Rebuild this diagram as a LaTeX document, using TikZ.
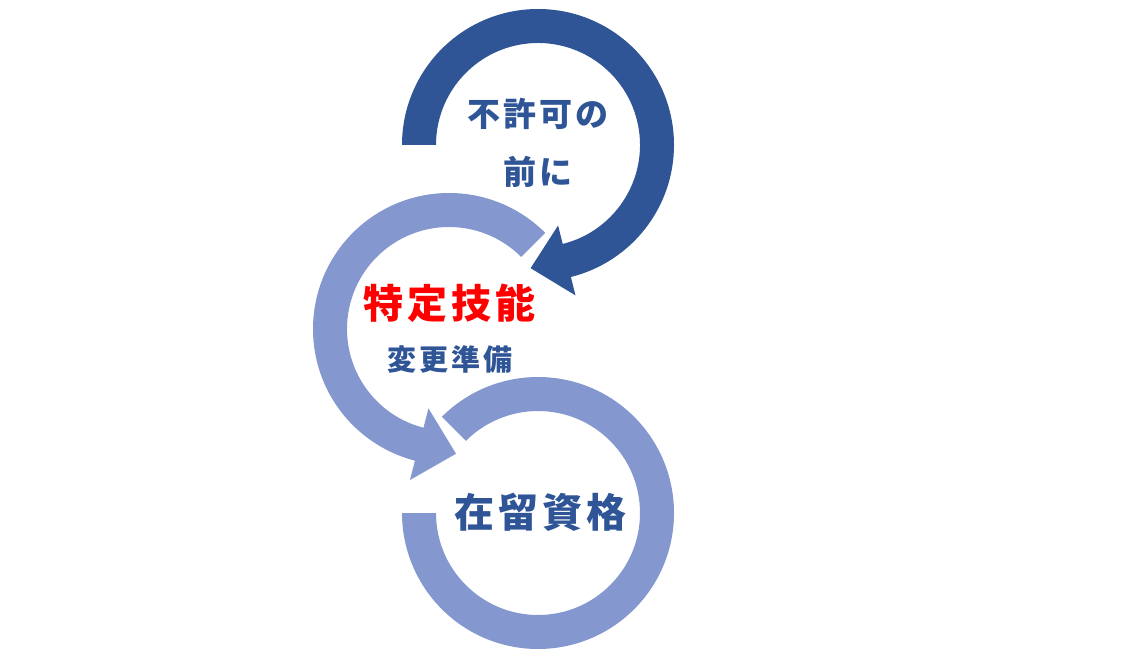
\documentclass[tikz,border=0pt]{standalone}
\usepackage{fontspec}
\newfontfamily\jp{Noto Sans CJK JP}[LetterSpace=10]
\usetikzlibrary{calc}
\definecolor{darkblue}{HTML}{2F5597}
\definecolor{lightblue}{HTML}{8497CF}
\definecolor{txtblue}{HTML}{2F5597}
\begin{document}
\begin{tikzpicture}[x=1pt,y=1pt,
  ringdark/.style={fill=darkblue},
  ringlight/.style={fill=lightblue},
  lbl/.style={text=txtblue,font=\jp\bfseries\fontsize{33}{40}\selectfont,inner sep=0pt},
  lblred/.style={text=red,font=\jp\bfseries\fontsize{40}{46}\selectfont,inner sep=0pt},
  lblsmall/.style={text=txtblue,font=\jp\bfseries\fontsize{29}{34}\selectfont,inner sep=0pt},
  lblbig/.style={text=txtblue,font=\jp\bfseries\fontsize{40}{46}\selectfont,inner sep=0pt}]
\useasboundingbox (0,0) rectangle (1123,-652);
\coordinate (C1) at (538,-145);
\coordinate (C2) at (449,-329);
\coordinate (C3) at (538,-513);
% ring 1 (dark, clockwise with head)
\fill[ringdark] ($(C1)+(180:136)$) arc[start angle=180,end angle=-76,radius=136]
  -- ($(C1)+(-76:155)$) -- ($(C1)+(-76:119)+(-168:37)$) -- ($(C1)+(-76:83)$)
  -- ($(C1)+(-76:102)$) arc[start angle=-76,end angle=180,radius=102] -- cycle;
% ring 2 (light, counterclockwise with head)
\fill[ringlight] ($(C2)+(45:136)$) arc[start angle=45,end angle=255.5,radius=136]
  -- ($(C2)+(255.5:156)$) -- ($(C2)+(255.5:119)+(345.5:38)$) -- ($(C2)+(255.5:82)$)
  -- ($(C2)+(255.5:102)$) arc[start angle=255.5,end angle=45,radius=102] -- cycle;
% ring 3 (light, no head)
\fill[ringlight] ($(C3)+(135:136)$) arc[start angle=135,end angle=-180,radius=136]
  -- ($(C3)+(180:102)$) arc[start angle=-180,end angle=135,radius=102] -- cycle;
% labels
\node[lbl] (t1) at (538,-114) {不許可の};
\node[lbl] (t2) at (538,-172) {前に};
\node[lblred] (t3) at (449,-303) {特定技能};
\node[lblsmall] (t4) at (450,-359) {変更準備};
\node[lblbig] (t5) at (540,-512) {在留資格};
\end{tikzpicture}
\end{document}
